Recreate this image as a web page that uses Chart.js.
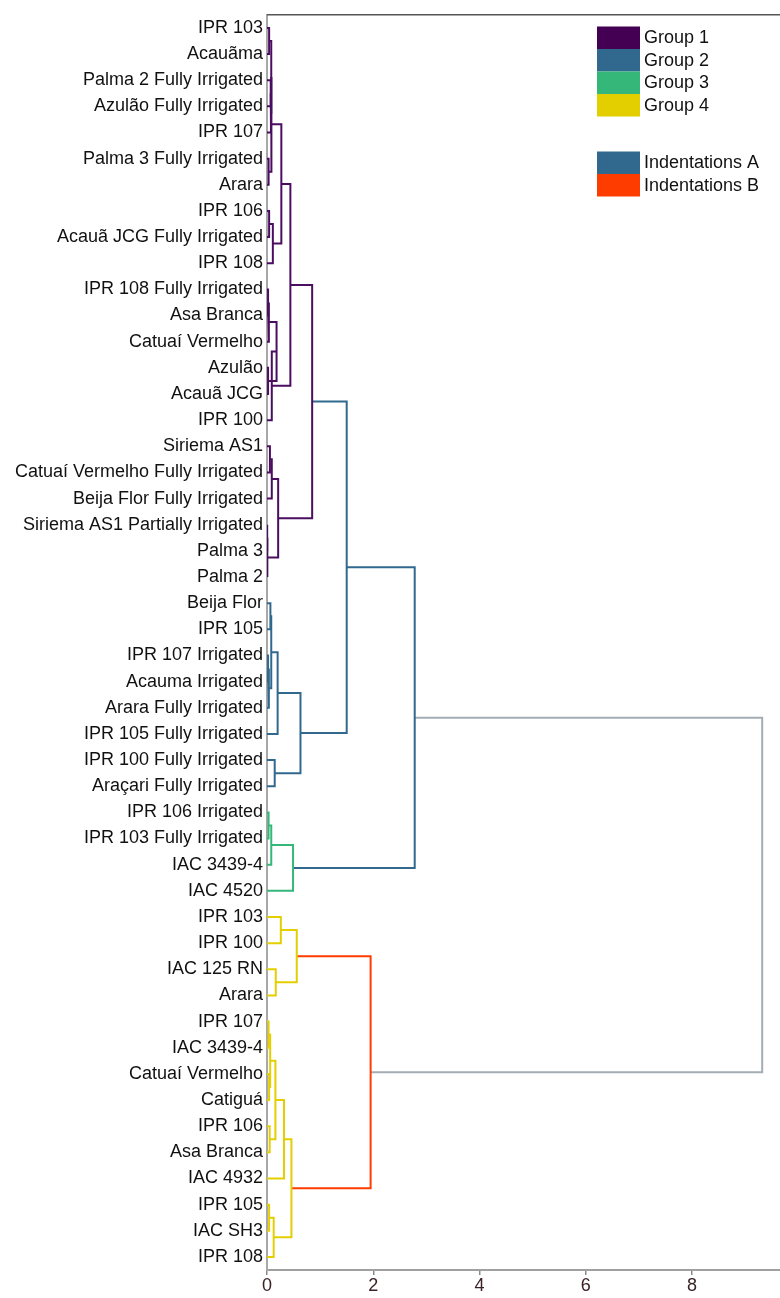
<!DOCTYPE html>
<html>
<head>
<meta charset="utf-8">
<script src="https://cdn.jsdelivr.net/npm/chart.js@4.4.1/dist/chart.umd.min.js"></script>
<style>
  html, body { margin: 0; padding: 0; background: #ffffff; }
  #wrap { width: 780px; height: 1298px; }
</style>
</head>
<body>
<div id="wrap"><canvas id="dendro" width="780" height="1298"></canvas></div>
<script>
// Leaf labels, top to bottom (leaf i sits at y = i)
const leafLabels = [
  'IPR 103', 'Acauãma', 'Palma 2 Fully Irrigated', 'Azulão Fully Irrigated', 'IPR 107',
  'Palma 3 Fully Irrigated', 'Arara', 'IPR 106', 'Acauã JCG Fully Irrigated', 'IPR 108',
  'IPR 108 Fully Irrigated', 'Asa Branca', 'Catuaí Vermelho', 'Azulão', 'Acauã JCG',
  'IPR 100', 'Siriema AS1', 'Catuaí Vermelho Fully Irrigated', 'Beija Flor Fully Irrigated',
  'Siriema AS1 Partially Irrigated', 'Palma 3', 'Palma 2',
  'Beija Flor', 'IPR 105', 'IPR 107 Irrigated', 'Acauma Irrigated', 'Arara Fully Irrigated',
  'IPR 105 Fully Irrigated', 'IPR 100 Fully Irrigated', 'Araçari Fully Irrigated',
  'IPR 106 Irrigated', 'IPR 103 Fully Irrigated', 'IAC 3439-4', 'IAC 4520',
  'IPR 103', 'IPR 100', 'IAC 125 RN', 'Arara', 'IPR 107', 'IAC 3439-4', 'Catuaí Vermelho',
  'Catiguá', 'IPR 106', 'Asa Branca', 'IAC 4932', 'IPR 105', 'IAC SH3', 'IPR 108'
];

// Linkage rows: [left child, right child, merge distance].
// Ids 0..47 are leaves; row k creates cluster id 48 + k.
const linkage = [
  [0, 1, 0.04], [2, 3, 0.07], [49, 4, 0.075], [48, 50, 0.08], [5, 6, 0.03],
  [51, 52, 0.083], [7, 8, 0.04], [54, 9, 0.11], [53, 55, 0.27], [10, 11, 0.02],
  [57, 12, 0.035], [13, 14, 0.02], [58, 59, 0.18], [60, 15, 0.09], [56, 61, 0.44],
  [16, 17, 0.055], [63, 18, 0.09], [19, 20, 0.005], [65, 21, 0.01], [64, 66, 0.21],
  [62, 67, 0.85],
  [22, 23, 0.064], [24, 25, 0.02], [70, 26, 0.035], [69, 71, 0.08], [72, 27, 0.2],
  [28, 29, 0.145], [73, 74, 0.63],
  [30, 31, 0.03], [76, 32, 0.08], [77, 33, 0.49],
  [68, 75, 1.5], [79, 78, 2.78],
  [34, 35, 0.26], [36, 37, 0.165], [81, 82, 0.56], [38, 39, 0.03], [40, 41, 0.04],
  [84, 85, 0.06], [42, 43, 0.05], [86, 87, 0.158], [88, 44, 0.32], [45, 46, 0.04],
  [90, 47, 0.126], [89, 91, 0.46],
  [83, 92, 1.95],
  [80, 93, 9.32]
];

// Colour key of each linkage row (same order as linkage)
const linkColorKey = [
  'g1', 'g1', 'g1', 'g1', 'g1', 'g1', 'g1', 'g1', 'g1', 'g1',
  'g1', 'g1', 'g1', 'g1', 'g1', 'g1', 'g1', 'g1', 'g1', 'g1', 'g1',
  'g2', 'g2', 'g2', 'g2', 'g2', 'g2', 'g2',
  'g3', 'g3', 'g3',
  'A', 'A',
  'g4', 'g4', 'g4', 'g4', 'g4', 'g4', 'g4', 'g4', 'g4', 'g4', 'g4', 'g4',
  'B',
  'root'
];

const palette = {
  g1: '#4a0d60', g2: '#31688e', g3: '#35b779', g4: '#e3cf00',
  A: '#31688e', B: '#ff3c00', root: '#a3adb5'
};

const xTickValues = [0, 2, 4, 6, 8];
const xMax = 9.655;

const groupLegendLabels = ['Group 1', 'Group 2', 'Group 3', 'Group 4'];
const groupLegendColors = ['#440154', '#31688e', '#35b779', '#e3cf00'];
const branchLegendLabels = ['Indentations A', 'Indentations B'];
const branchLegendColors = ['#31688e', '#ff3c00'];

const FONT = 'Liberation Sans, Arial, Helvetica, sans-serif';
const LABEL_SIZE = 18;

// Build one U-shaped link per merge from the linkage
const nodeY = leafLabels.map((_, i) => i);
const nodeH = leafLabels.map(() => 0);
const datasets = [];
linkage.forEach(([a, b, h], k) => {
  const ya = nodeY[a], yb = nodeY[b];
  datasets.push({
    data: [
      { x: nodeH[a], y: ya }, { x: h, y: ya },
      { x: h, y: yb }, { x: nodeH[b], y: yb }
    ],
    showLine: true,
    borderColor: palette[linkColorKey[k]],
    borderWidth: 2,
    pointRadius: 0,
    pointHoverRadius: 0,
    tension: 0,
    fill: false
  });
  nodeY.push((ya + yb) / 2);
  nodeH.push(h);
});

// Top frame line and the colour-key boxes
const framePlugin = {
  id: 'frameAndKey',
  afterDatasetsDraw(chart) {
    const { ctx, chartArea } = chart;
    ctx.save();
    ctx.strokeStyle = '#555555';
    ctx.lineWidth = 1.5;
    ctx.beginPath();
    ctx.moveTo(chartArea.left, chartArea.top);
    ctx.lineTo(chartArea.right, chartArea.top);
    ctx.stroke();

    const boxX = 597, boxW = 43, boxH = 22.5, textX = 644;
    ctx.font = LABEL_SIZE + 'px ' + FONT;
    ctx.textBaseline = 'middle';
    ctx.textAlign = 'left';
    const drawBlock = (labels, colors, top) => {
      labels.forEach((lab, i) => {
        const y = top + i * boxH;
        ctx.fillStyle = colors[i];
        ctx.fillRect(boxX, y, boxW, boxH);
        ctx.fillStyle = '#111111';
        ctx.fillText(lab, textX, y + boxH / 2 + 0.5);
      });
    };
    drawBlock(groupLegendLabels, groupLegendColors, 26.5);
    drawBlock(branchLegendLabels, branchLegendColors, 151.5);
    ctx.restore();
  }
};

new Chart(document.getElementById('dendro'), {
  type: 'scatter',
  data: { datasets },
  plugins: [framePlugin],
  options: {
    responsive: false,
    animation: false,
    events: [],
    layout: { padding: { top: 12, right: 0, bottom: 0, left: 0 } },
    plugins: { legend: { display: false }, tooltip: { enabled: false } },
    scales: {
      x: {
        type: 'linear',
        min: 0,
        max: xMax,
        afterBuildTicks: (scale) => { scale.ticks = xTickValues.map(v => ({ value: v })); },
        afterFit: (scale) => { scale.height = 28; },
        grid: { drawOnChartArea: false, drawTicks: true, tickLength: 5, color: '#8a8a8a', lineWidth: 1.5 },
        border: { display: true, color: '#a0a0a0', width: 2 },
        ticks: { font: { size: LABEL_SIZE, family: FONT }, color: '#3a2226', padding: 0, maxRotation: 0 }
      },
      y: {
        type: 'linear',
        reverse: true,
        min: -0.5,
        max: leafLabels.length - 0.5,
        afterBuildTicks: (scale) => { scale.ticks = leafLabels.map((_, i) => ({ value: i })); },
        afterFit: (scale) => { scale.width = 267; },
        grid: { display: false, drawTicks: false },
        border: { display: true, color: '#a8a8a8', width: 2 },
        ticks: {
          autoSkip: false,
          font: { size: LABEL_SIZE, family: FONT },
          color: '#111111',
          padding: 4,
          callback: (v) => leafLabels[v]
        }
      }
    }
  }
});
</script>
</body>
</html>
